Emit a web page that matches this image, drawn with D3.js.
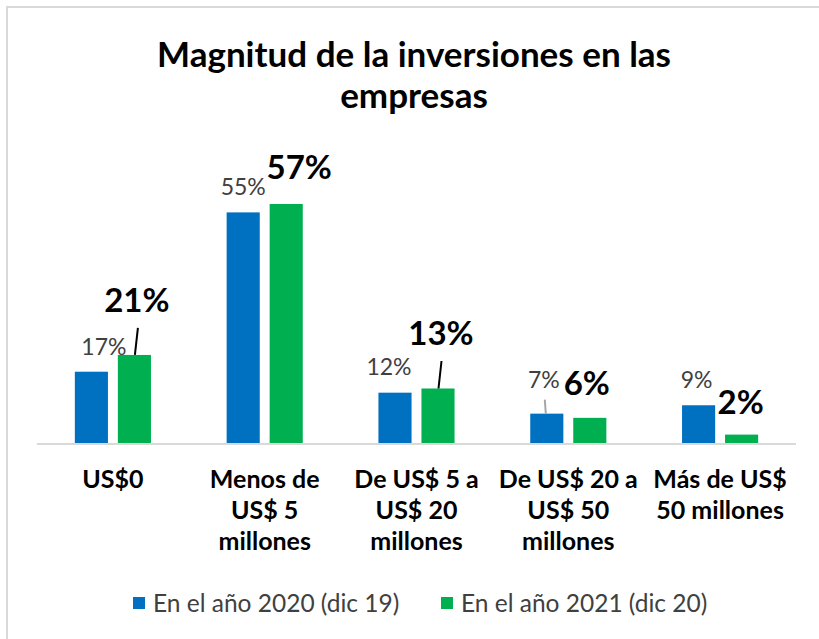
<!DOCTYPE html>
<html><head><meta charset="utf-8">
<script src="https://cdn.jsdelivr.net/npm/d3@7"></script>
<style>body{margin:0;background:#fff}svg{display:block}text{font-family:Lato,"Open Sans",sans-serif}</style>
</head><body>
<svg id="c" width="819" height="639"></svg>
<script>
const categories = [["US$0"],["Menos de","US$ 5","millones"],["De US$ 5 a","US$ 20","millones"],["De US$ 20 a","US$ 50","millones"],["Más de US$","50 millones"]];
const series2020 = [17,55,12,7,9];
const series2021 = [21,57,13,6,2];
const seriesNames = ["En el año 2020 (dic 19)","En el año 2021 (dic 20)"];
const colors = ["#0070C0","#00B050"];

const svg = d3.select("#c");
svg.append("rect").attr("x",7).attr("y",7).attr("width",830).attr("height",650)
  .attr("fill","#fff").attr("stroke","#d9d9d9").attr("stroke-width",2);

svg.append("text").attr("x",414).attr("y",67).attr("text-anchor","middle")
  .attr("font-size",35).attr("font-weight","bold").attr("fill","#000")
  .text("Magnitud de la inversiones en las");
svg.append("text").attr("x",414).attr("y",108).attr("text-anchor","middle")
  .attr("font-size",35).attr("font-weight","bold").attr("fill","#000")
  .text("empresas");

const x0 = d3.scaleBand().domain(d3.range(5)).range([37,796]).paddingInner(0).paddingOuter(0);
const x1 = d3.scaleBand().domain([0,1]).range([0,x0.bandwidth()]).paddingInner(0.23).paddingOuter(0.88);
const y = d3.scaleLinear().domain([0,57]).range([443,204]);

svg.append("line").attr("x1",37).attr("x2",796).attr("y1",444).attr("y2",444)
  .attr("stroke","#d9d9d9").attr("stroke-width",2);

const data = categories.map((c,i)=>({i, vals:[series2020[i],series2021[i]]}));
const g = svg.selectAll("g.grp").data(data).join("g").attr("class","grp")
  .attr("transform",d=>`translate(${x0(d.i)},0)`);
g.selectAll("rect").data(d=>d.vals.map((v,s)=>({v,s}))).join("rect")
  .attr("x",d=>x1(d.s)).attr("width",x1.bandwidth())
  .attr("y",d=>y(d.v)).attr("height",d=>y(0)-y(d.v))
  .attr("fill",d=>colors[d.s]);

// label layout offsets (dx from bar centre, baseline offset from bar top)
const lab20 = [[12.5,-17],[0,-17],[-6,-18],[-3,-26],[-2,-17]];
const lab21 = [[2.5,-43],[13,-25],[3,-43.5],[-3,-23],[-1,-21]];
const leader21 = [true,false,true,false,false];
const leader20 = [false,false,false,true,false];

data.forEach(d=>{
  const cb = x0(d.i)+x1(0)+x1.bandwidth()/2;
  const cg = x0(d.i)+x1(1)+x1.bandwidth()/2;
  const v0=d.vals[0], v1=d.vals[1];
  const b0 = y(v0)+lab20[d.i][1], b1 = y(v1)+lab21[d.i][1];
  svg.append("text").attr("x",cb+lab20[d.i][0]).attr("y",b0)
    .attr("text-anchor","middle").attr("font-size",23).attr("fill","#404040").text(v0+"%");
  svg.append("text").attr("x",cg+lab21[d.i][0]).attr("y",b1)
    .attr("text-anchor","middle").attr("font-size",33).attr("font-weight","bold").attr("fill","#000").text(v1+"%");
  if(leader21[d.i]){
    svg.append("line").attr("x1",cg+0.5).attr("y1",y(v1)).attr("x2",cg+3.5).attr("y2",b1+16)
      .attr("stroke","#000").attr("stroke-width",2);
  }
  if(leader20[d.i]){
    svg.append("line").attr("x1",cb-1).attr("y1",y(v0)).attr("x2",cb-2).attr("y2",b0+12)
      .attr("stroke","#a6a6a6").attr("stroke-width",2);
  }
  const t = svg.append("text").attr("text-anchor","middle").attr("font-size",25)
    .attr("font-weight","bold").attr("fill","#000");
  categories[d.i].forEach((line,k)=>{
    t.append("tspan").attr("x",x0(d.i)+x0.bandwidth()/2).attr("y",488+k*31).text(line);
  });
});

const legX = [133,441];
seriesNames.forEach((n,s)=>{
  svg.append("rect").attr("x",legX[s]).attr("y",597).attr("width",12).attr("height",12).attr("fill",colors[s]);
  svg.append("text").attr("x",legX[s]+20).attr("y",612).attr("font-size",24.5).attr("fill","#404040").text(n);
});
</script>
</body></html>
